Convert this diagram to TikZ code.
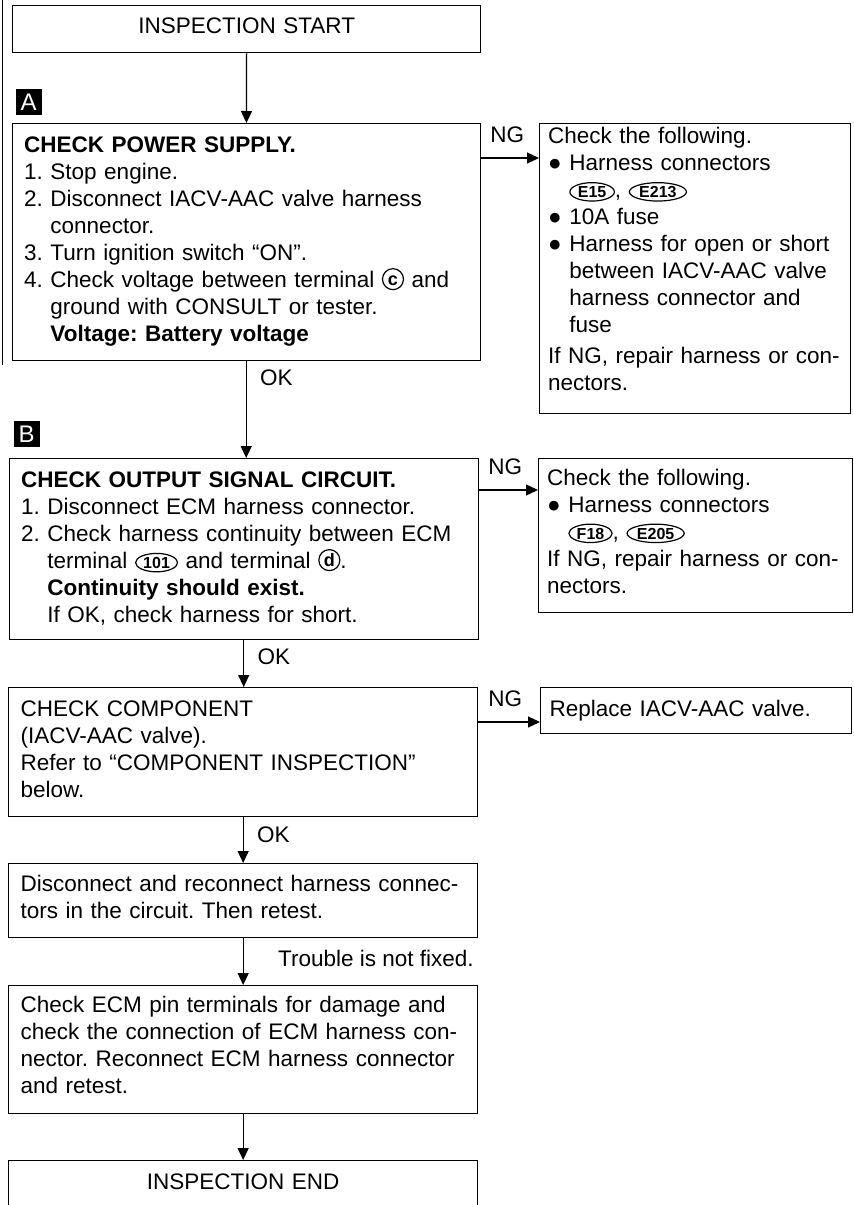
\documentclass[tikz,border=0pt]{standalone}
\usepackage{fontspec}
\setmainfont{Liberation Sans}
\usetikzlibrary{
  positioning,
  arrows.meta,
  shapes.geometric
}

% small inline marks for terminals and connectors
\newcommand{\termmark}[1]{\tikz[baseline={([yshift=-2pt]t-#1.base)}]
  \node[draw, circle, line width=1.2pt, text width={}, minimum width=21pt,
    minimum height=21pt, inner sep=0pt, anchor=center, text height=13pt,
    text depth=0pt, font=\fontsize{18}{18}\selectfont\bfseries] (t-#1) {#1};}
\newcommand{\connmark}[1]{\tikz[baseline={(c-#1.base)}]
  \node[draw, ellipse, line width=1.2pt, text width={}, minimum width=0pt,
    minimum height=0pt, inner xsep=1.5pt, inner ysep=0.5pt, anchor=center,
    text height=12pt, text depth=0pt,
    font=\fontsize{16}{16}\selectfont\bfseries] (c-#1) {#1};}
% extra depth under the last line of a box
\newcommand{\padbelow}[1]{\rule[-#1]{0pt}{#1}}

\begin{document}
\frenchspacing
\begin{tikzpicture}[x=1pt, y=-1pt, line width=1.3pt]
  \tikzset{
    stepbox/.style={
      draw, rectangle, anchor=north west, align=left,
      inner xsep=12pt, inner ysep=0pt,
      font=\fontsize{22.5}{27}\selectfont
    },
    sidebox/.style={stepbox, inner xsep=9pt},
    endbox/.style={stepbox, align=center, text depth=7pt},
    secmark/.style={
      fill=black, text=white, minimum width=26pt, minimum height=26pt,
      inner sep=0pt, font=\fontsize{24}{24}\selectfont
    },
    flow/.style={-{Triangle[length=12pt,width=11pt]}},
    lbl/.style={font=\fontsize{22.5}{27}\selectfont},
  }
  \useasboundingbox (0,0) rectangle (854,1205);

  % page edge
  \draw[line width=0.8pt] (2,0) -- (2,365);

  % main column
  \node[endbox, text width=444pt, minimum height=47pt] (start) at (12,5)
    {INSPECTION START};

  \node[stepbox, text width=444pt, minimum height=237pt] (chkA) at (12,123)
    {\textbf{CHECK POWER SUPPLY.}\\
     1. Stop engine.\\
     2. Disconnect IACV-AAC valve harness\\
     \phantom{2. }connector.\\
     3. Turn ignition switch “ON”.\\
     4. Check voltage between terminal \termmark{c} and\\
     \phantom{4. }ground with CONSULT or tester.\\
     \phantom{4. }\textbf{Voltage: Battery voltage}};
  \node[secmark, above right=7pt and 3pt of chkA.north west] (secA) {A};

  \node[stepbox, text width=445pt, minimum height=181pt] (chkB) at (9,458)
    {\textbf{CHECK OUTPUT SIGNAL CIRCUIT.}\\
     1. Disconnect ECM harness connector.\\
     2. Check harness continuity between ECM\\
     \phantom{2. }terminal \connmark{101} and terminal \termmark{d}.\\
     \phantom{2. }\textbf{Continuity should exist.}\\
     \phantom{2. }If OK, check harness for short.};
  \node[secmark, above right=10pt and 4pt of chkB.north west] (secB) {B};

  \node[stepbox, text width=445pt, minimum height=129pt] (chkC) at (8,687)
    {CHECK COMPONENT\\
     (IACV-AAC valve).\\
     Refer to “COMPONENT INSPECTION”\\
     below.\padbelow{7pt}};

  \node[stepbox, text width=445pt, minimum height=74pt] (retest) at (8,863)
    {Disconnect and reconnect harness connec-\\
     tors in the circuit. Then retest.\padbelow{8pt}};

  \node[stepbox, text width=445pt, minimum height=128pt] (ecmpins) at (8,985)
    {Check ECM pin terminals for damage and\\
     check the connection of ECM harness con-\\
     nector. Reconnect ECM harness connector\\
     and retest.\padbelow{9pt}};

  \node[endbox, text width=445pt, minimum height=48pt] (finish) at (8,1160)
    {INSPECTION END};

  % NG column
  \node[sidebox, text width=293pt, minimum height=290pt] (fixA) at (539,123)
    {Check the following.\\
     ● Harness connectors\\
     \phantom{● }\connmark{E15}, \connmark{E213}\\
     ● 10A fuse\\
     ● Harness for open or short\\
     \phantom{● }between IACV-AAC valve\\
     \phantom{● }harness connector and\\
     \phantom{● }fuse\\[4pt]
     If NG, repair harness or con-\\
     nectors.\padbelow{18pt}};

  \node[sidebox, text width=296pt, minimum height=154pt] (fixB) at (538,458)
    {Check the following.\\
     ● Harness connectors\\
     \phantom{● }\connmark{F18}, \connmark{E205}\\
     If NG, repair harness or con-\\
     nectors.\padbelow{8pt}};

  \node[sidebox, text width=293pt, minimum height=46pt] (fixC) at (540,687)
    {Replace IACV-AAC valve.};

  % OK flow
  \draw[flow] (start) -- (chkA);
  \draw[flow] (chkA.south) -- (chkA.south |- chkB.north)
    node[lbl, pos=0, below right=5pt and 10pt] (okA) {OK};
  \draw[flow] (chkB.south) -- (chkB.south |- chkC.north)
    node[lbl, pos=0, below right=5pt and 10pt] (okB) {OK};
  \draw[flow] (chkC.south) -- (retest.north)
    node[lbl, pos=0, below right=5pt and 10pt] (okC) {OK};
  \draw[flow] (retest.south) -- (ecmpins.north)
    node[lbl, pos=0, below right=8pt and 31pt] (notfixed) {Trouble is not fixed.};
  \draw[flow] (ecmpins.south) -- (finish.north);

  % NG branches
  \coordinate (ngA) at ([yshift=-35pt]chkA.north east);
  \coordinate (ngB) at ([yshift=-32pt]chkB.north east);
  \coordinate (ngC) at ([yshift=-35pt]chkC.north east);
  \draw[flow] (ngA) -- (ngA -| fixA.west)
    node[lbl, pos=0, above right=11pt and 6pt] (ngAlbl) {NG};
  \draw[flow] (ngB) -- (ngB -| fixB.west)
    node[lbl, pos=0, above right=11pt and 6pt] (ngBlbl) {NG};
  \draw[flow] (ngC) -- (ngC -| fixC.west)
    node[lbl, pos=0, above right=11pt and 6pt] (ngClbl) {NG};
\end{tikzpicture}
\end{document}
